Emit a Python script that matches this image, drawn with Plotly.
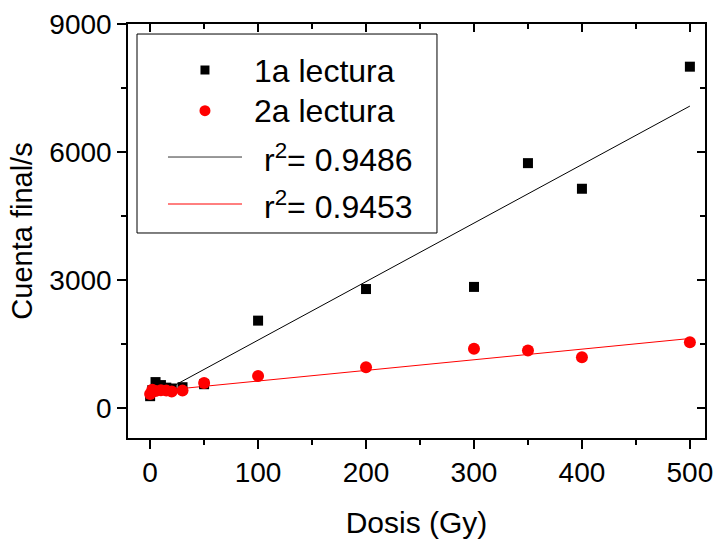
import plotly.graph_objects as go

# ---- data ----
dose = [0, 2, 5, 10, 15, 20, 30, 50, 100, 200, 300, 350, 400, 500]
lectura1 = [280, 420, 610, 540, 480, 460, 490, 560, 2050, 2790, 2840, 5740, 5140, 8000]
lectura2 = [330, 430, 400, 420, 410, 390, 410, 590, 750, 960, 1390, 1350, 1190, 1545]
fit1 = {"slope": 13.71, "intercept": 222.0, "r2": 0.9486}
fit2 = {"slope": 2.49, "intercept": 386.0, "r2": 0.9453}
series_names = ["1a lectura", "2a lectura"]
x_title = "Dosis (Gy)"
y_title = "Cuenta final/s"

FONT = "Liberation Sans, Arial, sans-serif"

fit_x = [min(dose), max(dose)]
fit1_y = [fit1["intercept"] + fit1["slope"] * v for v in fit_x]
fit2_y = [fit2["intercept"] + fit2["slope"] * v for v in fit_x]

fig = go.Figure()
fig.add_trace(go.Scatter(x=fit_x, y=fit1_y, mode="lines",
                         line=dict(color="black", width=1), showlegend=False))
fig.add_trace(go.Scatter(x=fit_x, y=fit2_y, mode="lines",
                         line=dict(color="red", width=1), showlegend=False))
fig.add_trace(go.Scatter(x=dose, y=lectura1, mode="markers", name=series_names[0],
                         marker=dict(symbol="square", size=10, color="black"),
                         showlegend=False))
fig.add_trace(go.Scatter(x=dose, y=lectura2, mode="markers", name=series_names[1],
                         marker=dict(symbol="circle", size=12, color="red"),
                         showlegend=False))
# empty trace to activate mirrored (inside-tick) axes
fig.add_trace(go.Scatter(x=[], y=[], xaxis="x2", yaxis="y2", showlegend=False))

# ---- manual legend (paper fractions of plot area) ----
fig.add_trace(go.Scatter(x=[0.1334], y=[0.8889], xaxis="x3", yaxis="y3", mode="markers",
                         marker=dict(symbol="square", size=9, color="black"),
                         showlegend=False, hoverinfo="skip"))
fig.add_trace(go.Scatter(x=[0.1334], y=[0.7906], xaxis="x3", yaxis="y3", mode="markers",
                         marker=dict(symbol="circle", size=11, color="red"),
                         showlegend=False, hoverinfo="skip"))

shapes = [
    dict(type="rect", xref="paper", yref="paper", x0=0.0156, x1=0.5355, y0=0.4952, y1=0.9758,
         line=dict(color="black", width=1), fillcolor="rgba(0,0,0,0)", layer="above"),
    dict(type="line", xref="paper", yref="paper", x0=0.0693, x1=0.1976, y0=0.6787, y1=0.6787,
         line=dict(color="#333333", width=1)),
    dict(type="line", xref="paper", yref="paper", x0=0.0693, x1=0.1976, y0=0.5652, y1=0.5652,
         line=dict(color="red", width=1)),
]
legend_texts = [
    (0.2149, 0.8865, series_names[0]),
    (0.2149, 0.7899, series_names[1]),
    (0.2322, 0.6763, "r<sup>2</sup>= %.4f" % fit1["r2"]),
    (0.2322, 0.5628, "r<sup>2</sup>= %.4f" % fit2["r2"]),
]
annotations = [dict(x=x, y=y, xref="paper", yref="paper", text=t, showarrow=False,
                    xanchor="left", yanchor="middle",
                    font=dict(family=FONT, size=32, color="black"))
               for x, y, t in legend_texts]

xr = [-20.5, 514]
yr = [-700, 9000]
axis_common = dict(showline=True, linecolor="black", linewidth=1.5, showgrid=False,
                   zeroline=False, tickcolor="black", tickwidth=1.5, automargin=False)

fig.update_layout(
    width=714, height=540,
    margin=dict(l=128, r=9, t=24, b=102),
    paper_bgcolor="white", plot_bgcolor="white",
    font=dict(family=FONT, size=28, color="black"),
    showlegend=False,
    xaxis=dict(range=xr, dtick=100, tick0=0, ticks="outside", ticklen=9,
               minor=dict(dtick=50, tick0=0, ticks="outside", ticklen=5, tickcolor="black", tickwidth=1.5),
               title=dict(text=x_title, font=dict(size=30), standoff=25),
               tickfont=dict(size=28), **axis_common),
    yaxis=dict(range=yr, dtick=3000, tick0=0, ticks="outside", ticklen=9,
               minor=dict(dtick=1500, tick0=0, ticks="outside", ticklen=5, tickcolor="black", tickwidth=1.5),
               title=dict(text=y_title, font=dict(size=29), standoff=8),
               tickfont=dict(size=28), **axis_common),
    xaxis2=dict(range=xr, overlaying="x", side="top", anchor="y2", dtick=100, tick0=0,
                ticks="inside", ticklen=8, showticklabels=False,
                minor=dict(dtick=50, tick0=0, ticks="inside", ticklen=5, tickcolor="black", tickwidth=1.5),
                **axis_common),
    yaxis2=dict(range=yr, overlaying="y", side="right", anchor="x2", dtick=3000, tick0=0,
                ticks="inside", ticklen=8, showticklabels=False,
                minor=dict(dtick=1500, tick0=0, ticks="inside", ticklen=5, tickcolor="black", tickwidth=1.5),
                **axis_common),
    xaxis3=dict(range=[0, 1], overlaying="x", visible=False, anchor="y3"),
    yaxis3=dict(range=[0, 1], overlaying="y", visible=False, anchor="x3"),
    shapes=shapes,
    annotations=annotations,
)

fig.write_html("out.html")
